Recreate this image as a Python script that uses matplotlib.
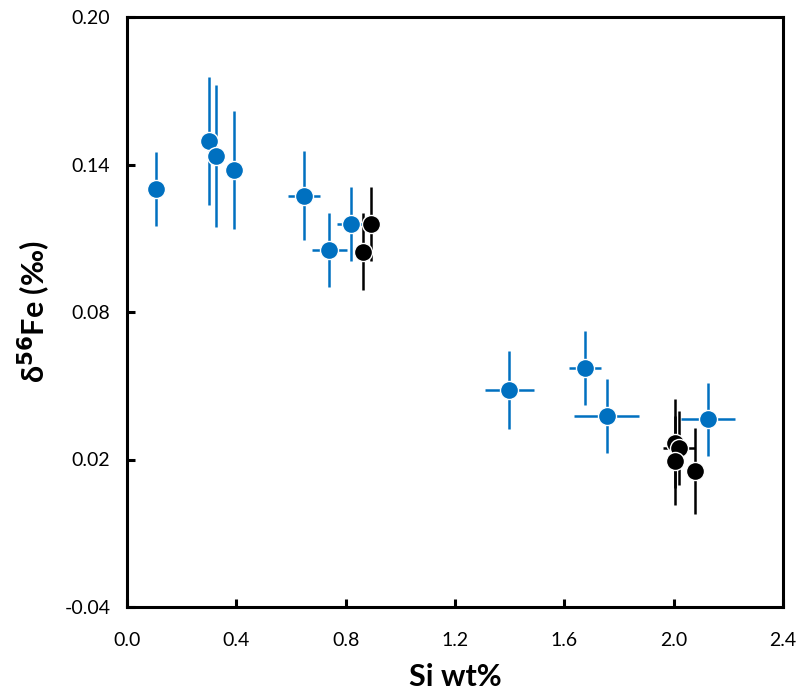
import matplotlib
matplotlib.use("Agg")
import matplotlib.pyplot as plt

# blue samples
blue_si = [0.106, 0.300, 0.325, 0.392, 0.648, 0.740, 0.820, 1.399, 1.676, 1.755, 2.126]
blue_fe = [0.130, 0.1496, 0.1434, 0.1378, 0.1273, 0.1052, 0.1158, 0.0483, 0.0571, 0.0378, 0.0363]
blue_xerr = [0.0, 0.0, 0.0, 0.0, 0.059, 0.064, 0.050, 0.090, 0.058, 0.119, 0.099]
blue_yerr = [0.015, 0.026, 0.029, 0.024, 0.018, 0.015, 0.015, 0.016, 0.015, 0.015, 0.015]

# black samples
black_si = [0.893, 0.865, 2.005, 2.019, 2.005, 2.078]
black_fe = [0.1158, 0.1045, 0.0266, 0.0248, 0.0195, 0.0154]
black_xerr = [0.0, 0.0, 0.02, 0.058, 0.0, 0.0]
black_yerr = [0.015, 0.0156, 0.018, 0.015, 0.018, 0.0175]

plt.rcParams['font.family'] = ['Lato', 'DejaVu Sans']

fig = plt.figure(figsize=(8.03, 6.98), dpi=100)
ax = fig.add_axes([127/803, 1 - 607/698, (783-127)/803, (607-17)/698])

ax.errorbar(blue_si, blue_fe, xerr=blue_xerr, yerr=blue_yerr, fmt='o', color='#0070C0',
            ecolor='#0070C0', elinewidth=1.8, capsize=0, markersize=13,
            markeredgecolor='white', markeredgewidth=1.0, zorder=2)
ax.errorbar(black_si, black_fe, xerr=black_xerr, yerr=black_yerr, fmt='o', color='black',
            ecolor='black', elinewidth=1.8, capsize=0, markersize=13,
            markeredgecolor='white', markeredgewidth=1.0, zorder=3)

ax.set_xlim(0, 2.4)
ax.set_ylim(-0.04, 0.20)
ax.set_xticks([0.0, 0.4, 0.8, 1.2, 1.6, 2.0, 2.4])
ax.set_yticks([-0.04, 0.02, 0.08, 0.14, 0.20])
ax.set_xticklabels(['0.0', '0.4', '0.8', '1.2', '1.6', '2.0', '2.4'])
ax.set_yticklabels(['-0.04', '0.02', '0.08', '0.14', '0.20'])

for s in ax.spines.values():
    s.set_linewidth(2.2)
ax.tick_params(direction='in', length=6, width=2.2, labelsize=14)
ax.tick_params(axis='x', pad=18)
ax.tick_params(axis='y', pad=12)

ax.set_xlabel('Si wt%', fontsize=22, fontweight='bold', labelpad=10)
ax.set_ylabel(r'δ$^{\mathbf{56}}$Fe (‰)', fontsize=22, fontweight='bold', labelpad=8)

fig.savefig('out.png', dpi=100)
